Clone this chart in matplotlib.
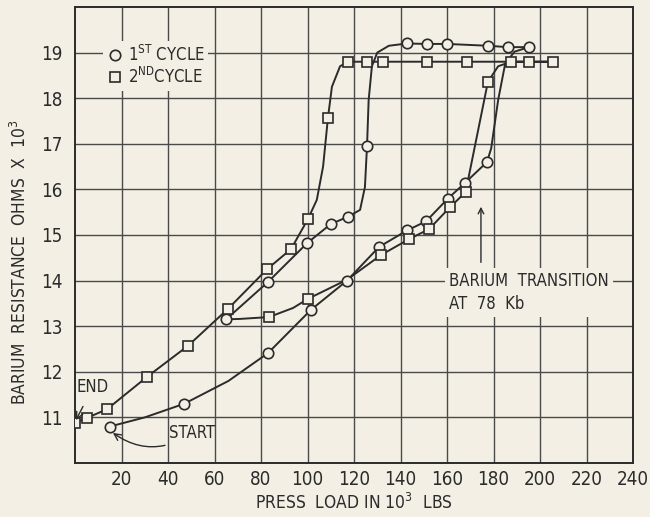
import matplotlib
matplotlib.use("Agg")
import matplotlib.pyplot as plt

plt.rcParams['font.family'] = ['DejaVu Sans']
plt.rcParams['font.stretch'] = 'condensed'
plt.rcParams['mathtext.fontset'] = 'dejavusans'

PAPER = '#f3efe4'
INK = '#2b2b2b'

# 1st cycle: measured points (circles)
c1_x = [15, 47, 83, 101.5, 117, 130.8, 142.8, 151, 160.4, 167.7, 177.2,
        195.3, 186.2, 177.6, 160, 151.4, 142.8, 125.6, 117.4, 110, 99.8, 83, 65]
c1_y = [10.8, 11.3, 12.41, 13.36, 14.0, 14.74, 15.1, 15.3, 15.8, 16.14, 16.6,
        19.12, 19.12, 19.15, 19.19, 19.19, 19.2, 16.95, 15.4, 15.24, 14.82, 13.97, 13.15]
# 1st cycle: drawn curve (markers plus knees)
c1_line_x = [15, 30, 47, 66, 83, 101.5, 117, 130.8, 142.8, 151, 160.4, 167.7, 177.2,
             179, 182, 185, 189, 195.3, 186.2, 177.6, 160, 151.4, 142.8, 135,
             130, 127.7, 126.3, 125.6, 124.7, 122.6, 117.4, 110, 99.8, 83, 65]
c1_line_y = [10.8, 11.0, 11.3, 11.8, 12.41, 13.36, 14.0, 14.74, 15.1, 15.3, 15.8, 16.14, 16.6,
             16.9, 17.96, 18.75, 19.02, 19.12, 19.12, 19.15, 19.19, 19.19, 19.2, 19.15,
             19.0, 18.7, 17.96, 16.95, 16.05, 15.55, 15.4, 15.24, 14.82, 13.97, 13.15]

# 2nd cycle: measured points (squares)
c2_x = [83.4, 100.2, 131.6, 143.7, 152.3, 161.3, 168, 177.6, 187.5, 195.3, 205.6,
        168.6, 151.4, 132.5, 125.6, 117.4, 108.8, 100.2, 92.9, 82.6, 65.8, 48.6,
        31, 13.8, 5.2, 0]
c2_y = [13.2, 13.6, 14.56, 14.91, 15.13, 15.61, 15.94, 18.36, 18.8, 18.8, 18.8,
        18.8, 18.8, 18.8, 18.8, 18.8, 17.57, 15.35, 14.69, 14.25, 13.38, 12.57,
        11.89, 11.18, 10.99, 10.88]
c2_line_x = [65, 71, 83.4, 93.8, 100.2, 117, 131.6, 143.7, 152.3, 161.3, 168, 177.6,
             182, 187.5, 195.3, 205.6, 168.6, 151.4, 132.5, 125.6, 117.4, 114, 110.5,
             108.8, 106.7, 104, 100.2, 92.9, 82.6, 65.8, 48.6, 31, 13.8, 5.2, 0]
c2_line_y = [13.15, 13.16, 13.2, 13.4, 13.6, 14.02, 14.56, 14.91, 15.13, 15.61, 15.94, 18.36,
             18.7, 18.8, 18.8, 18.8, 18.8, 18.8, 18.8, 18.8, 18.8, 18.7, 18.25,
             17.57, 16.5, 15.77, 15.35, 14.69, 14.25, 13.38, 12.57, 11.89, 11.18, 10.99, 10.88]

x_ticks = [20, 40, 60, 80, 100, 120, 140, 160, 180, 200, 220, 240]
y_ticks = [11, 12, 13, 14, 15, 16, 17, 18, 19]

fig = plt.figure(figsize=(6.5, 5.17), dpi=100, facecolor=PAPER)
ax = fig.add_axes([75 / 650, 1 - 463 / 517, 558 / 650, 456 / 517])
ax.set_facecolor(PAPER)
ax.set_xlim(0, 240)
ax.set_ylim(10, 20)

# grid
for gx in range(20, 240, 20):
    ax.axvline(gx, color='#4a4a4a', lw=1.0, zorder=1)
for gy in range(11, 20):
    ax.axhline(gy, color='#4a4a4a', lw=1.0, zorder=1)
for s in ax.spines.values():
    s.set_color(INK)
    s.set_linewidth(1.4)

ax.plot(c1_line_x, c1_line_y, color=INK, lw=1.4, zorder=3)
ax.plot(c2_line_x, c2_line_y, color=INK, lw=1.4, zorder=3)
ax.plot(c1_x, c1_y, 'o', ms=7.5, mfc=PAPER, mec=INK, mew=1.2, ls='none', zorder=4,
        label=r'1$^{\mathrm{ST}}$ CYCLE')
ax.plot(c2_x, c2_y, 's', ms=7.5, mfc=PAPER, mec=INK, mew=1.2, ls='none', zorder=4,
        label=r'2$^{\mathrm{ND}}$CYCLE')

ax.set_xticks(x_ticks)
ax.set_yticks(y_ticks)
ax.tick_params(length=0, labelsize=13.5, colors=INK)
ax.tick_params(axis='x', pad=5)
ax.tick_params(axis='y', pad=9)

ax.set_xlabel(r'PRESS  LOAD IN 10$^3$  LBS', fontsize=12.5, color=INK, labelpad=3)
fig.text(20 / 650, 1 - 262 / 517, r'BARIUM  RESISTANCE  OHMS  X  10$^3$',
         rotation=90, ha='center', va='center', fontsize=12.5, color=INK)

leg = ax.legend(loc='upper left', bbox_to_anchor=(0.05, 0.925), frameon=True,
                fontsize=12, handletextpad=0.3, borderpad=0.2, labelspacing=0.15,
                handlelength=1.0, borderaxespad=0)
leg.get_frame().set_facecolor(PAPER)
leg.get_frame().set_edgecolor('none')
leg.get_frame().set_alpha(1)
for t in leg.get_texts():
    t.set_color(INK)

ax.annotate('END', xy=(0.4, 10.94), xytext=(7.7, 11.66), fontsize=12, color=INK,
            ha='center', va='center',
            arrowprops=dict(arrowstyle='->', color=INK, lw=1.0, shrinkA=6, shrinkB=0),
            zorder=5)
ax.annotate('START', xy=(16.3, 10.66), xytext=(50.3, 10.66), fontsize=12, color=INK,
            ha='center', va='center',
            arrowprops=dict(arrowstyle='->', color=INK, lw=1.0, shrinkA=2, shrinkB=0,
                            connectionstyle='arc3,rad=-0.35'),
            zorder=5)
ax.text(160.9, 13.74, 'BARIUM  TRANSITION\nAT  78  Kb', fontsize=12, color=INK,
        ha='left', va='center', linespacing=1.3, zorder=5,
        bbox=dict(boxstyle='square,pad=0.25', facecolor=PAPER, edgecolor='none'))
ax.annotate('', xy=(174.6, 15.62), xytext=(174.6, 14.4),
            arrowprops=dict(arrowstyle='->', color=INK, lw=1.0, shrinkA=0, shrinkB=0),
            zorder=5)

fig.savefig('out.png', dpi=100, facecolor=PAPER)
